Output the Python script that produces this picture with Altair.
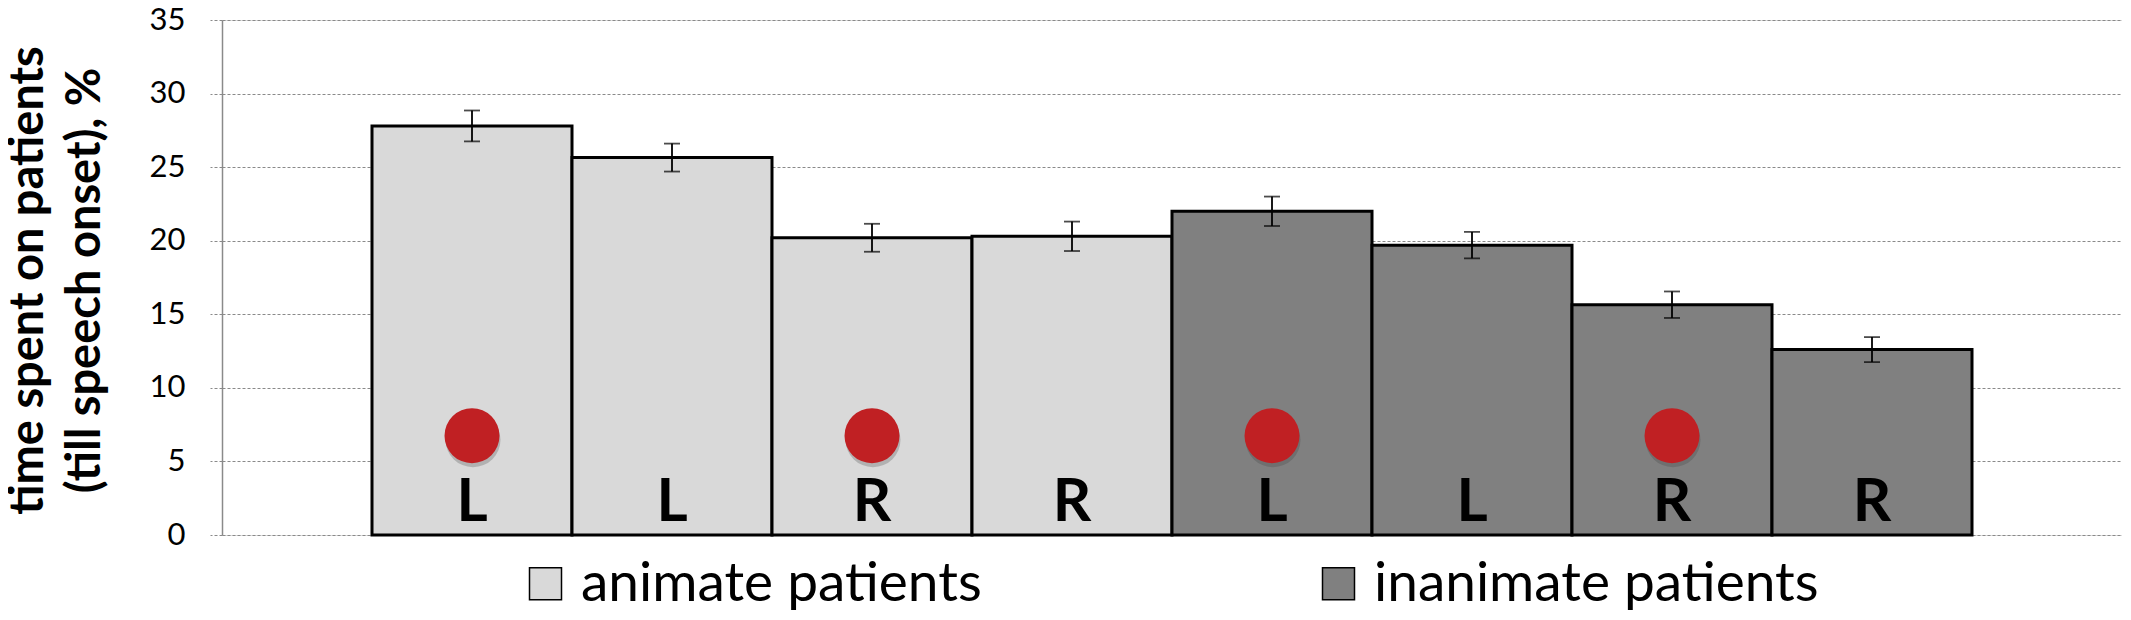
import altair as alt
import pandas as pd

bar_ids = ["b1", "b2", "b3", "b4", "b5", "b6", "b7", "b8"]
groups = ["animate patients"] * 4 + ["inanimate patients"] * 4
sides = ["L", "L", "R", "R", "L", "L", "R", "R"]
values = [27.8, 25.65, 20.2, 20.3, 22.0, 19.7, 15.65, 12.6]
errors = [1.05, 0.95, 0.95, 1.0, 1.0, 0.9, 0.9, 0.85]
has_dot = [True, False, True, False, True, False, True, False]
y_ticks = [0, 5, 10, 15, 20, 25, 30, 35]
group_names = ["animate patients", "inanimate patients"]
group_colors = ["#D9D9D9", "#808080"]

df = pd.DataFrame({
    "id": bar_ids,
    "group": groups,
    "side": sides,
    "value": values,
    "err": errors,
    "dot": has_dot,
})
df["lo"] = df["value"] - df["err"]
df["hi"] = df["value"] + df["err"]

FONT = "Lato"

x_enc = alt.X("id:N", sort=bar_ids, axis=None,
              scale=alt.Scale(paddingInner=0, paddingOuter=0.75))
y_scale = alt.Scale(domain=[0, 35], nice=False, zero=True)

base = alt.Chart(df)

bars = base.mark_bar(stroke="black", strokeWidth=3).encode(
    x=x_enc,
    y=alt.Y("value:Q", scale=y_scale,
            axis=alt.Axis(
                values=y_ticks,
                title=["time spent on patients", "(till speech onset), %"],
                titleFont=FONT, titleFontWeight="bold", titleFontSize=47,
                titleColor="black", titleAngle=270, titleAlign="center",
                titleBaseline="alphabetic", titleX=-180, titleY=260,
                titleLineHeight=57,
                labelFont=FONT, labelFontSize=31, labelColor="black",
                labelPadding=25, tickSize=12, tickColor="#8a8a8a",
                tickDash=[3, 2], tickWidth=1,
                domainColor="#8a8a8a", domainWidth=1.5,
                grid=True, gridColor="#8a8a8a", gridDash=[3, 2], gridWidth=1,
            )),
    color=alt.Color("group:N",
                    scale=alt.Scale(domain=group_names, range=group_colors),
                    legend=alt.Legend(
                        title=None, orient="none", legendX=296, legendY=536,
                        direction="horizontal", symbolType="square",
                        symbolSize=1024, symbolStrokeColor="black",
                        symbolStrokeWidth=1.5, labelFont=FONT,
                        labelFontSize=55, labelColor="black", labelOffset=8,
                        columnPadding=329, labelLimit=1000,
                    )),
)

rules = base.mark_rule(color="black", strokeWidth=1.8).encode(
    x=x_enc, y=alt.Y("lo:Q", scale=y_scale), y2="hi:Q")

caps_hi = base.mark_tick(color="black", size=16, thickness=1.8).encode(
    x=x_enc, y=alt.Y("hi:Q", scale=y_scale))
caps_lo = base.mark_tick(color="black", size=16, thickness=1.8).encode(
    x=x_enc, y=alt.Y("lo:Q", scale=y_scale))

dot_base = base.transform_filter(alt.datum.dot == True)
shadow = dot_base.mark_point(filled=True, shape="circle", size=3025,
                             color="#3a3a3a", opacity=0.25, yOffset=4,
                             xOffset=1).encode(x=x_enc, y=alt.datum(6.75))
dots = dot_base.mark_point(filled=True, shape="circle", size=3025,
                           color="#C02023", opacity=1).encode(
    x=x_enc, y=alt.datum(6.75))

letters = base.mark_text(font=FONT, fontWeight="bold", fontSize=60,
                         color="black", baseline="alphabetic", dy=-14).encode(
    x=x_enc, y=alt.datum(0), text="side:N")

chart = alt.layer(bars, rules, caps_hi, caps_lo, shadow, dots, letters).properties(
    width=1900, height=515,
    autosize=alt.AutoSizeParams(type="none"),
    padding={"left": 214, "top": 12, "right": 0, "bottom": 77},
).configure_view(stroke=None).configure(background="white")

chart.save("out.html", embed_options={"renderer": "svg", "actions": False})
